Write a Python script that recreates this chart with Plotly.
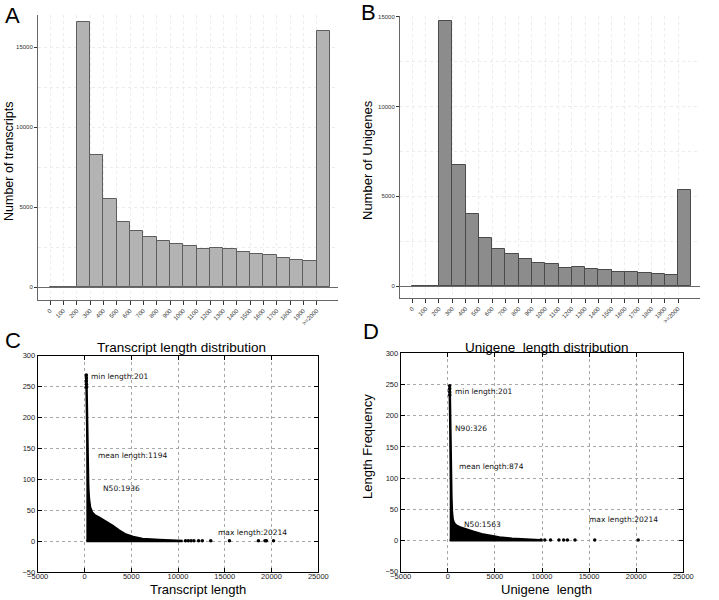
import plotly.graph_objects as go

# ---------------- data ----------------
bin_starts = [0, 100, 200, 300, 400, 500, 600, 700, 800, 900, 1000,
              1100, 1200, 1300, 1400, 1500, 1600, 1700, 1800, 1900, 2000]
bin_labels = ['0', '100', '200', '300', '400', '500', '600', '700', '800', '900', '1000',
              '1100', '1200', '1300', '1400', '1500', '1600', '1700', '1800', '1900', '>=2000']
transcripts = [0, 0, 16570, 8250, 5510, 4080, 3510, 3120, 2870, 2700, 2580,
               2390, 2430, 2350, 2180, 2080, 2000, 1830, 1700, 1620, 16010]
unigenes = [0, 0, 14780, 6770, 4030, 2680, 2050, 1770, 1490, 1260, 1230,
            1000, 1060, 970, 870, 760, 760, 710, 690, 610, 5340]

# length-frequency cloud (C): upper envelope of the dense point band
c_len = [201, 240, 270, 300, 340, 400, 480, 600, 800, 1100, 1600, 2300, 3000,
         3700, 4400, 5200, 6200, 8000, 10500]
c_upper = [268, 235, 190, 150, 115, 88, 68, 55, 47, 42, 38, 32, 25,
           17.5, 11, 7, 4, 2.3, 1.5]
c_top_len = [201, 203, 206, 209, 212]
c_top_freq = [269, 264, 259, 254, 249]
c_tail_len = [10800, 11100, 11400, 11700, 12200, 12600, 13500, 15500, 18600, 19300, 19450, 20214]
c_tail_freq = [1, 1, 1, 1, 1, 1, 1, 1, 1, 1, 1, 1]

# length-frequency cloud (D)
d_len = [201, 240, 280, 320, 380, 440, 520, 650, 900, 1300, 2000, 2700, 3600,
         4500, 5500, 6800, 8000, 9800]
d_upper = [248, 190, 150, 105, 70, 45, 34, 28, 24, 21, 17, 14, 10,
           7, 4.8, 3, 2.2, 1.2]
d_top_len = [201, 203, 206, 209]
d_top_freq = [248, 243, 238, 233]
d_tail_len = [9900, 10300, 10900, 11800, 12300, 12700, 13500, 15600, 20214]
d_tail_freq = [1, 1, 1, 1, 1, 1, 1, 1, 1]

c_notes = [("min length:201", 480, 266), ("mean length:1194", 1270, 139),
           ("N50:1936", 1800, 85), ("max length:20214", 14080, 15)]
d_notes = [("min length:201", 520, 238), ("N90:326", 600, 179),
           ("mean length:874", 950, 119), ("N50:1563", 1480, 26),
           ("max length:20214", 14750, 34)]

W, H = 719, 600
def px(x0, x1):
    return [x0 / W, x1 / W]
def py(top, bottom):
    return [1 - bottom / H, 1 - top / H]

SANS = "Liberation Sans, Arial, sans-serif"
fig = go.Figure()

bar_x = [s + 50 for s in bin_starts]
fig.add_trace(go.Bar(x=bar_x, y=transcripts, width=100, xaxis='x', yaxis='y',
                     marker=dict(color='#b3b3b3', line=dict(color='#5e5e5e', width=1)),
                     showlegend=False))
fig.add_trace(go.Bar(x=bar_x, y=unigenes, width=100, xaxis='x2', yaxis='y2',
                     marker=dict(color='#8c8c8c', line=dict(color='#4a4a4a', width=1)),
                     showlegend=False))

def cloud(lens, upper, top_l, top_f, tail_l, tail_f, xa, ya):
    xs = lens + [lens[-1], lens[0]]
    ys = upper + [0.4, 0.4]
    fig.add_trace(go.Scatter(x=xs, y=ys, xaxis=xa, yaxis=ya, mode='lines', fill='toself',
                             fillcolor='black', line=dict(color='black', width=2.5),
                             showlegend=False, hoverinfo='skip'))
    fig.add_trace(go.Scatter(x=top_l, y=top_f, xaxis=xa, yaxis=ya, mode='markers',
                             marker=dict(color='black', size=3.5), showlegend=False))
    fig.add_trace(go.Scatter(x=tail_l, y=tail_f, xaxis=xa, yaxis=ya, mode='markers',
                             marker=dict(color='black', size=3.5), showlegend=False))

cloud(c_len, c_upper, c_top_len, c_top_freq, c_tail_len, c_tail_freq, 'x3', 'y3')
cloud(d_len, d_upper, d_top_len, d_top_freq, d_tail_len, d_tail_freq, 'x4', 'y4')

grid_light = '#ececec'
def bar_xaxis(dom, rng, anchor):
    return dict(domain=dom, range=rng, anchor=anchor, tickmode='array',
                tickvals=bin_starts, ticktext=bin_labels, tickangle=-45,
                tickfont=dict(family=SANS, size=6, color='#333'),
                ticks='outside', ticklen=4, tickcolor='#333',
                showline=True, linecolor='#666', linewidth=1,
                showgrid=True, gridcolor=grid_light, griddash='dot', zeroline=False)
def bar_yaxis(dom, rng, anchor):
    return dict(domain=dom, range=rng, anchor=anchor, tickvals=[0, 5000, 10000, 15000],
                tickformat='d',
                tickfont=dict(family=SANS, size=6, color='#333'),
                ticks='outside', ticklen=3, tickcolor='#333',
                showline=True, linecolor='#666', linewidth=1,
                showgrid=True, gridcolor=grid_light, griddash='dot',
                minor=dict(dtick=2500, tick0=0, showgrid=True, gridcolor=grid_light, griddash='dot'),
                zeroline=True, zerolinecolor='#6a6a6a', zerolinewidth=1)
def sc_xaxis(dom, anchor):
    return dict(domain=dom, range=[-5000, 25000], anchor=anchor, dtick=5000, tick0=0,
                tickformat='d',
                tickfont=dict(family=SANS, size=7.5, color='#222'),
                ticks='inside', ticklen=4, tickcolor='black', mirror='ticks',
                showline=True, linecolor='black', linewidth=1,
                showgrid=True, gridcolor='#a8a8a8', griddash='dot', gridwidth=1, zeroline=False)
def sc_yaxis(dom, anchor):
    return dict(domain=dom, range=[-50, 300], anchor=anchor, dtick=50, tick0=0,
                tickformat='d',
                tickfont=dict(family=SANS, size=7.5, color='#222'),
                ticks='inside', ticklen=4, tickcolor='black', mirror='ticks',
                showline=True, linecolor='black', linewidth=1,
                showgrid=True, gridcolor='#a8a8a8', griddash='dot', gridwidth=1, zeroline=False)

fig.update_layout(
    width=W, height=H, margin=dict(l=0, r=0, t=0, b=0, autoexpand=False),
    paper_bgcolor='white', plot_bgcolor='white', bargap=0,
    xaxis=bar_xaxis(px(38, 338), [-90, 2160], 'y'),
    yaxis=bar_yaxis(py(15, 300), [-812, 17000], 'x'),
    xaxis2=bar_xaxis(px(400, 700), [-93, 2165], 'y2'),
    yaxis2=bar_yaxis(py(16, 298), [-669, 15050], 'x2'),
    xaxis3=sc_xaxis(px(37.7, 318.3), 'y3'),
    yaxis3=sc_yaxis(py(355.7, 572.3), 'x3'),
    xaxis4=sc_xaxis(px(400.7, 683.3), 'y4'),
    yaxis4=sc_yaxis(py(353.3, 571.7), 'x4'),
)
for ax in ('xaxis3', 'xaxis4'):
    try:
        fig.layout[ax].ticklabelstandoff = -3
    except Exception:
        pass

ann = []
def pap(text, x, y, size, angle=0, family=SANS, xanchor='center', yanchor='middle'):
    ann.append(dict(text=text, x=x / W, y=1 - y / H, xref='paper', yref='paper',
                    showarrow=False, textangle=angle, xanchor=xanchor, yanchor=yanchor,
                    font=dict(family=family, size=size, color='black')))

pap("A", 3, 16, 22, xanchor='left')
pap("B", 359, 12, 22, xanchor='left')
pap("C", 3, 340, 22, xanchor='left')
pap("D", 361, 331, 22, xanchor='left')
pap("Number of transcripts", 9, 162, 12.5, angle=-90)
pap("Number of Unigenes", 368, 160, 13, angle=-90)
pap("Length Frequency", 367, 447, 13, angle=-90)
pap("Transcript length distribution", 182, 347, 13.5)
pap("Unigene  length distribution", 547, 347, 13.5)
pap("Transcript length", 198, 589, 13)
pap("Unigene  length", 546, 589, 13)

for t, x, y in c_notes:
    ann.append(dict(text=t, x=x, y=y, xref='x3', yref='y3', showarrow=False,
                    xanchor='left', yanchor='middle',
                    font=dict(family="DejaVu Sans", size=7.5, color='#111')))
for t, x, y in d_notes:
    ann.append(dict(text=t, x=x, y=y, xref='x4', yref='y4', showarrow=False,
                    xanchor='left', yanchor='middle',
                    font=dict(family="DejaVu Sans", size=7.5, color='#111')))
fig.update_layout(annotations=ann)

fig.write_html("out.html", config={'displayModeBar': False},
               post_script="document.body.style.margin='0px';document.body.style.overflow='hidden';")
